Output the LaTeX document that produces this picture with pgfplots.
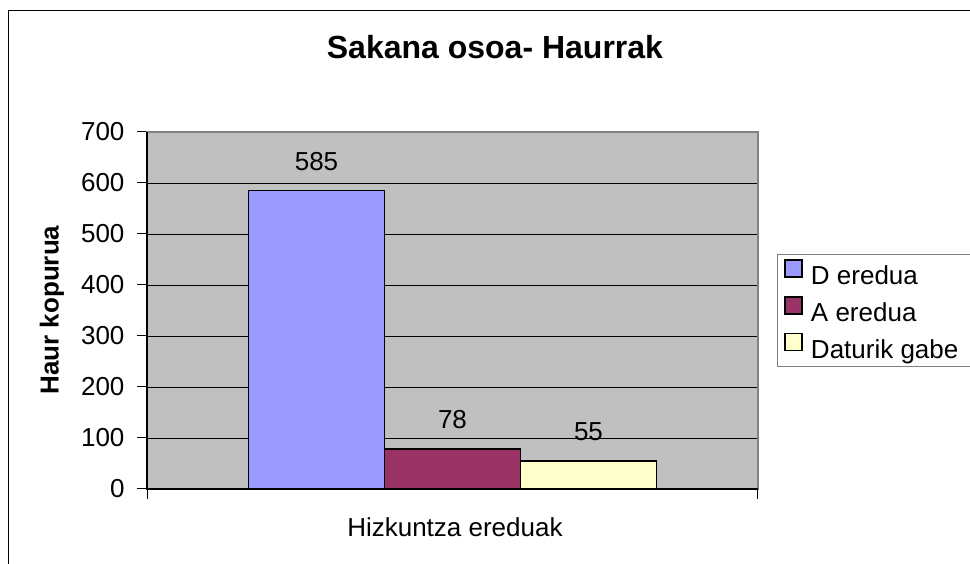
\documentclass[border=0pt]{standalone}
\usepackage{pgfplots}
\pgfplotsset{compat=1.18}
\usepackage{fontspec}
\setmainfont{Liberation Sans}
\definecolor{cD}{RGB}{153,153,255}
\definecolor{cA}{RGB}{153,51,102}
\definecolor{cN}{RGB}{255,255,204}
\definecolor{plotbg}{RGB}{192,192,192}
\definecolor{frame}{RGB}{128,128,128}
\begin{document}
\begin{tikzpicture}[x=1pt,y=1pt]
\useasboundingbox (0,0) rectangle (970,564);
\fill[white] (0,0) rectangle (970,564);
\draw[black, line width=1pt] (8.5,-5) -- (8.5,553.5) -- (980,553.5);
\begin{axis}[
  at={(147pt,75pt)}, anchor=south west,
  scale only axis, width=611pt, height=357pt,
  xmin=-0.5, xmax=0.5, ymin=0, ymax=700,
  ytick={0,100,...,700},
  xtick={-0.5,0.5}, xticklabels={},
  ytick pos=left, xtick pos=bottom,
  tick align=outside, major tick length=10pt,
  tick style={black, line width=1pt},
  ymajorgrids, major grid style={black, line width=0.8pt},
  axis background/.style={fill=plotbg},
  axis line style={draw=frame, line width=1.5pt},
  /pgf/number format/assume math mode=true,
  ticklabel style={font=\fontsize{26}{30}\selectfont},
  yticklabel style={xshift=-9pt},
  ybar=0pt, bar width=136pt,
  nodes near coords,
  every node near coord/.append style={font=\fontsize{26}{30}\selectfont, black, yshift=16pt},
  title={\bfseries Sakana osoa- Haurrak},
  title style={font=\fontsize{32}{36}\selectfont, at={(axis description cs:0.5695,1.22)}, anchor=center},
  xlabel={Hizkuntza ereduak},
  xlabel style={font=\fontsize{26}{30}\selectfont, at={(axis description cs:0.504,-0.106)}, anchor=center},
  ylabel={\bfseries Haur kopurua},
  ylabel style={font=\fontsize{26}{30}\selectfont, at={(axis description cs:-0.1555,0.501)}, anchor=center},
  legend style={at={(1,0.5)}, anchor=west, xshift=19pt, draw=frame, line width=1pt,
    font=\fontsize{26}{30}\selectfont, row sep=8pt, inner xsep=7pt, inner ysep=5pt,
    cells={anchor=west},
    /tikz/every odd column/.append style={column sep=6pt}},
  legend image code/.code={\draw[#1, draw=black, line width=1.5pt] (0pt,-1pt) rectangle (17pt,16pt);},
]
\addplot[fill=cD, draw=black, line width=1.5pt] coordinates {(0,585)};
\addplot[fill=cA, draw=black, line width=1.5pt] coordinates {(0,78)};
\addplot[fill=cN, draw=black, line width=1.5pt] coordinates {(0,55)};
\legend{D eredua, A eredua, Daturik gabe\hspace*{30pt}}
\end{axis}
\draw[black, line width=1.5pt] (147,432) -- (147,75) -- (758,75);
\end{tikzpicture}
\end{document}
